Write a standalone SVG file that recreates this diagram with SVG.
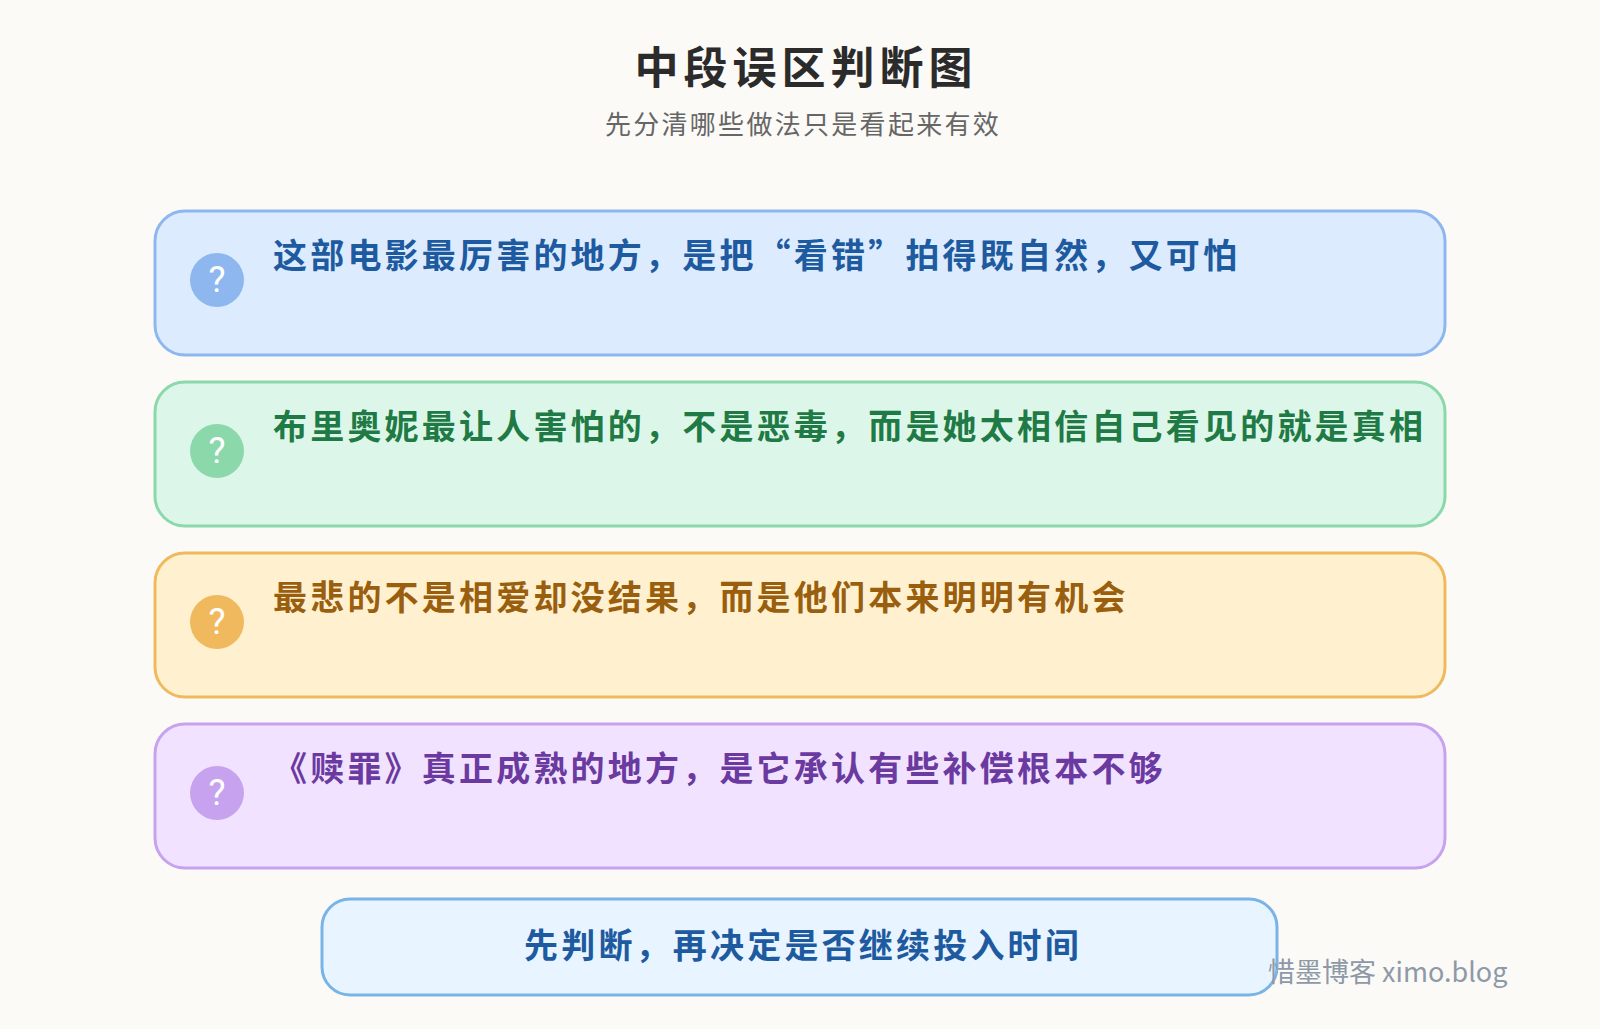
<svg xmlns="http://www.w3.org/2000/svg" width="1600" height="1029" viewBox="0 0 1600 1029">
<style>
text{font-family:"Noto Sans CJK SC","Noto Sans",sans-serif}
.box{stroke-width:3}
.t{font-size:34px;font-weight:700;letter-spacing:3.2px}
.q{font-size:36px;fill:#fff;text-anchor:middle;font-family:Roboto,"Noto Sans",sans-serif}
</style>
<rect width="1600" height="1029" fill="#fbfaf7"/>
<text x="806" y="84" text-anchor="middle" font-size="44" font-weight="700" fill="#2b2b2b" letter-spacing="5">中段误区判断图</text>
<text x="803" y="134" text-anchor="middle" font-size="26" fill="#666" letter-spacing="2.3">先分清哪些做法只是看起来有效</text>
<g id="n1"><rect class="box" x="155" y="211" width="1290" height="144" rx="30" fill="#dcebfd" stroke="#8db7ee"/><circle cx="217" cy="280" r="27" fill="#8db7ee"/><text class="q" x="217" y="292">?</text><text class="t" x="273" y="268" fill="#1e5aa0">这部电影最厉害的地方，是把“看错”拍得既自然，又可怕</text></g>
<g id="n2"><rect class="box" x="155" y="382" width="1290" height="144" rx="30" fill="#dcf7e9" stroke="#8bd8aa"/><circle cx="217" cy="451" r="27" fill="#8bd8aa"/><text class="q" x="217" y="463">?</text><text class="t" x="273" y="439" fill="#1f7a45">布里奥妮最让人害怕的，不是恶毒，而是她太相信自己看见的就是真相</text></g>
<g id="n3"><rect class="box" x="155" y="553" width="1290" height="144" rx="30" fill="#fff1cf" stroke="#f0b95e"/><circle cx="217" cy="622" r="27" fill="#f0b95e"/><text class="q" x="217" y="634">?</text><text class="t" x="273" y="610" fill="#9a5f0e">最悲的不是相爱却没结果，而是他们本来明明有机会</text></g>
<g id="n4"><rect class="box" x="155" y="724" width="1290" height="144" rx="30" fill="#f1e3ff" stroke="#c7a2ee"/><circle cx="217" cy="793" r="27" fill="#c7a2ee"/><text class="q" x="217" y="805">?</text><text class="t" x="273" y="781" fill="#6b3aa0">《赎罪》真正成熟的地方，是它承认有些补偿根本不够</text></g>
<g id="n5"><rect class="box" x="322" y="899" width="955" height="96" rx="28" fill="#e8f4ff" stroke="#78b4e6"/><text class="t" x="803" y="958" text-anchor="middle" fill="#1e5aa0">先判断，再决定是否继续投入时间</text></g>
<g id="connectors"/>
<text x="1268" y="982" font-size="27" fill="#8e99a8" font-family="Inter,'Noto Sans CJK SC',sans-serif">惜墨博客 ximo.blog</text>
</svg>
